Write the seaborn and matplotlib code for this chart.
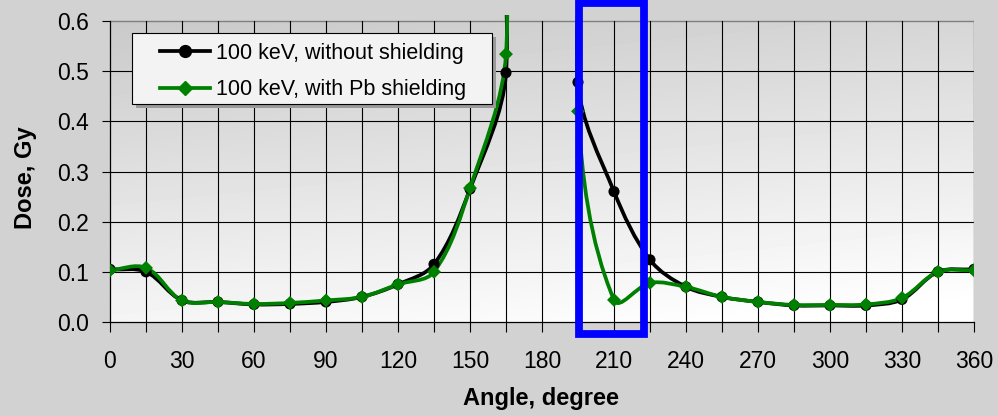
import numpy as np
import pandas as pd
import seaborn as sns
import matplotlib
matplotlib.use("Agg")
import matplotlib.pyplot as plt
from matplotlib.path import Path
from matplotlib.patches import PathPatch, Rectangle
from matplotlib.lines import Line2D

# values (dose in Gy every 15 degrees)
angle = [0, 15, 30, 45, 60, 75, 90, 105, 120, 135, 150, 165, 180,
         195, 210, 225, 240, 255, 270, 285, 300, 315, 330, 345, 360]
dose_no_shield = [0.105, 0.100, 0.043, 0.040, 0.035, 0.036, 0.040, 0.050, 0.075,
                  0.115, 0.265, 0.497, 2.5, 0.478, 0.260, 0.124, 0.070, 0.050,
                  0.040, 0.033, 0.033, 0.033, 0.045, 0.100, 0.105]
dose_pb_shield = [0.103, 0.108, 0.043, 0.040, 0.036, 0.038, 0.043, 0.050, 0.075,
                  0.100, 0.267, 0.534, 2.5, 0.420, 0.044, 0.078, 0.070, 0.050,
                  0.040, 0.034, 0.034, 0.035, 0.048, 0.100, 0.103]
labels = ["100 keV, without shielding", "100 keV, with Pb shielding"]
colors = ["black", "#008000"]
markers = ["o", "D"]

# highlighted angle window (blue box)
box_angles = (195.6, 222.7)

df = pd.DataFrame({"angle": angle * 2,
                   "dose": dose_no_shield + dose_pb_shield,
                   "series": [labels[0]] * len(angle) + [labels[1]] * len(angle)})

plt.rcParams['font.family'] = ['Liberation Sans', 'DejaVu Sans']

W, H = 998, 416
fig = plt.figure(figsize=(W / 100, H / 100), dpi=100)
fig.patch.set_facecolor("#d2d2d2")

# plot area: x 110..974 px, y value 0 at 322 px, 0.6 at 21 px
ax = fig.add_axes([110 / W, (H - 322) / H, 864 / W, 307 / H])
ax.set_facecolor("none")
YMAX = 0.6

# gradient background of the plot area (dark top-left, white bottom-right)
gx, gy = np.meshgrid(np.linspace(0, 1, 200), np.linspace(0, 1, 100))
grad = np.clip(0.79 + 0.17 * gy + 0.05 * gx, 0, 1)
ax.imshow(grad, extent=[0, 360, 0, YMAX], aspect="auto", cmap="gray",
          vmin=0, vmax=1, zorder=0, interpolation="bilinear")
ax.set_xlim(0, 360)
ax.set_ylim(0, 0.612)

# grid
for v in np.arange(0.1, 0.55, 0.1):
    ax.plot([0, 360], [v, v], color="black", lw=0.8, zorder=1)
ax.plot([0, 360], [YMAX, YMAX], color="#808080", lw=1.0, zorder=1)
for a in range(15, 360, 15):
    ax.plot([a, a], [0, YMAX], color="black", lw=0.8, zorder=1)
ax.plot([360, 360], [0, YMAX], color="#808080", lw=1.0, zorder=1)


def smooth_path(x, y, sx=2.4, sy=501.7, k=1 / 3):
    # Excel-like smoothed line: cubic Bezier with chord-scaled tangents
    P = np.column_stack([np.asarray(x, float) * sx, np.asarray(y, float) * sy])
    n = len(P)
    T = np.zeros_like(P)
    for i in range(n):
        d = P[min(i + 1, n - 1)] - P[max(i - 1, 0)]
        T[i] = d / np.hypot(*d)
    verts = [P[0]]
    codes = [Path.MOVETO]
    for i in range(n - 1):
        L = np.hypot(*(P[i + 1] - P[i]))
        verts += [P[i] + T[i] * L * k, P[i + 1] - T[i + 1] * L * k, P[i + 1]]
        codes += [Path.CURVE4] * 3
    verts = np.array(verts) / [sx, sy]
    return Path(verts, codes)


for lab, col in zip(labels, colors):
    sub = df[df["series"] == lab]
    ax.add_patch(PathPatch(smooth_path(sub["angle"], sub["dose"]), fill=False,
                           edgecolor=col, lw=2.7, zorder=3, capstyle="round"))

sns.scatterplot(data=df[df["series"] == labels[0]], x="angle", y="dose",
                color=colors[0], marker="o", s=64, edgecolor="none", zorder=4,
                ax=ax, legend=False)
sns.scatterplot(data=df[df["series"] == labels[1]], x="angle", y="dose",
                color=colors[1], marker="D", s=50, edgecolor="none", zorder=5,
                ax=ax, legend=False)

# axes, ticks
for s in ["top", "right"]:
    ax.spines[s].set_visible(False)
for s in ["left", "bottom"]:
    ax.spines[s].set_color("black")
    ax.spines[s].set_linewidth(0.9)
ax.spines["left"].set_bounds(0, YMAX)
ax.set_xticks(range(0, 361, 30))
ax.set_xticks(range(0, 361, 15), minor=True)
ax.set_yticks(np.arange(0, 0.61, 0.1))
ax.set_yticklabels([f"{v:.1f}" for v in np.arange(0, 0.61, 0.1)])
ax.tick_params(axis="x", which="both", direction="out", length=7.5, width=0.8,
               pad=13, labelsize=16.5)
ax.tick_params(axis="x", which="minor", labelbottom=False)
ax.tick_params(axis="y", direction="out", length=6, width=0.8, pad=9,
               labelsize=16.5)

ax.set_xlabel("Angle, degree", fontsize=17, fontweight="bold")
ax.set_ylabel("Dose, Gy", fontsize=17, fontweight="bold")
ax.xaxis.set_label_coords(0.499, -0.2476)
ax.xaxis.label.set_va("center")
ax.yaxis.set_label_coords(-0.098, 0.47)
ax.yaxis.label.set_va("center")

# highlighted window
ax.add_patch(Rectangle((box_angles[0], -0.0249), box_angles[1] - box_angles[0],
                       0.66, fill=False, edgecolor="#0000ff", lw=5.6,
                       clip_on=False, zorder=10))

# legend frame with shadow
fig.patches.append(Rectangle((136 / W, 1 - 108 / H), 360 / W, 71 / H,
                             transform=fig.transFigure, facecolor="#9a9a9a",
                             edgecolor="none", zorder=6))
fig.patches.append(Rectangle((132 / W, 1 - 104 / H), 360 / W, 71 / H,
                             transform=fig.transFigure, facecolor="#f3f3f3",
                             edgecolor="black", lw=0.8, zorder=7))
handles = [Line2D([], [], color=c, lw=2.7, marker=m, markersize=ms)
           for c, m, ms in zip(colors, markers, [8.5, 7.5])]
leg = fig.legend(handles, labels, loc="upper left",
                 bbox_to_anchor=(160 / W, 1 - 43 / H), frameon=False,
                 fontsize=15.5, handlelength=2.3, handletextpad=0.3,
                 labelspacing=0.72, borderpad=0, borderaxespad=0)
leg.set_zorder(8)

fig.savefig("out.png", dpi=100, facecolor=fig.get_facecolor())
